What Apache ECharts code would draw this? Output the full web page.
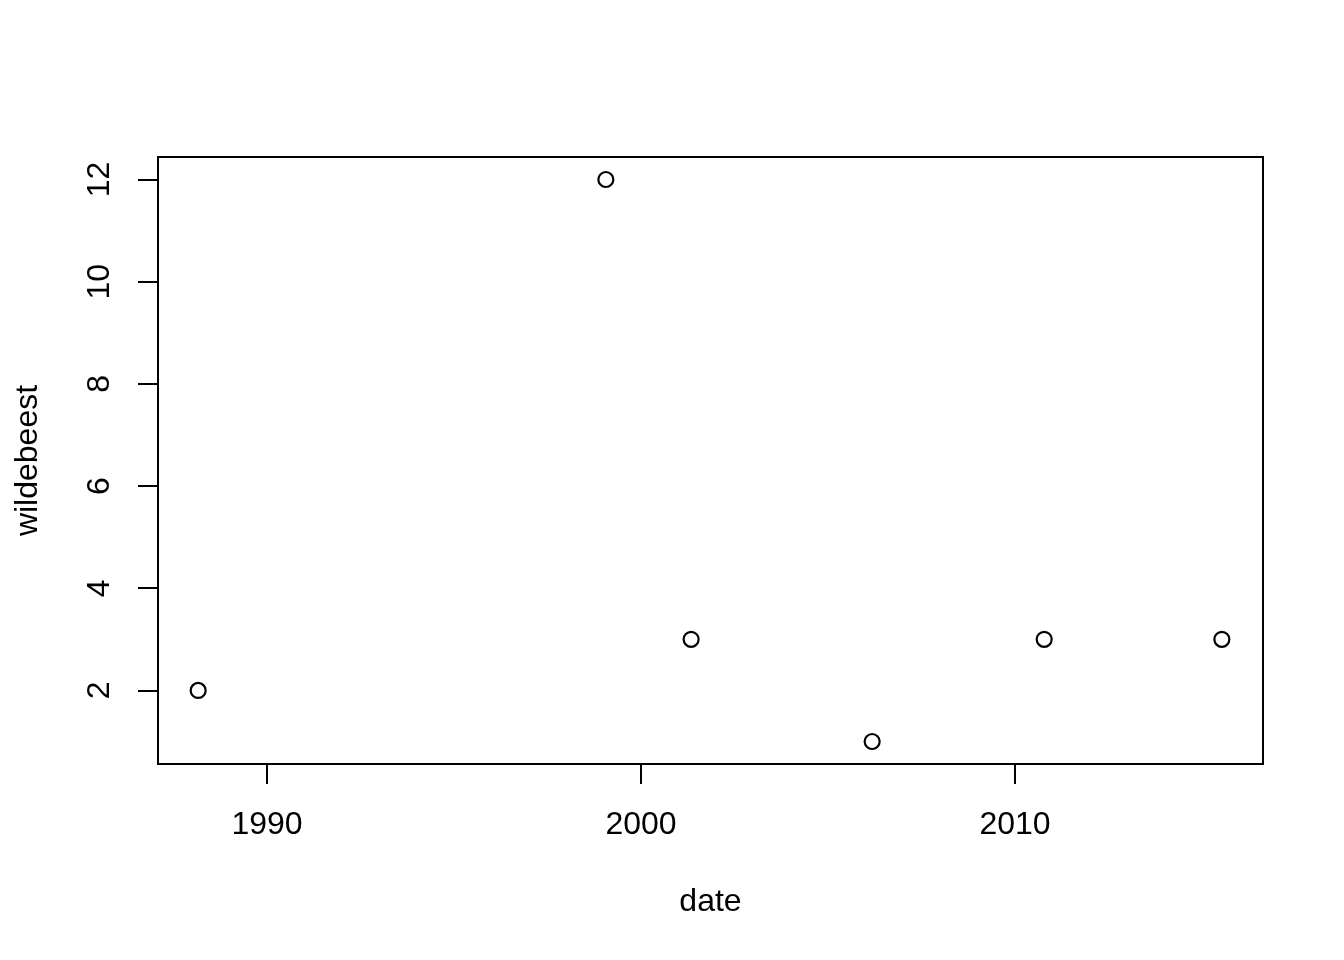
<!DOCTYPE html>
<html>
<head>
<meta charset="utf-8">
<script src="https://cdn.jsdelivr.net/npm/echarts@6/dist/echarts.min.js"></script>
<style>
html,body{margin:0;padding:0;background:#fff;}
#chart{width:1344px;height:960px;}
</style>
</head>
<body>
<div id="chart"></div>
<script>
const dates = [1988.16, 1999.06, 2001.34, 2006.18, 2010.78, 2015.53];
const wildebeest = [2, 12, 3, 1, 3, 3];
const xTicks = [1990, 2000, 2010];
const yTicks = [2, 4, 6, 8, 10, 12];

const points = dates.map((d, i) => [d, wildebeest[i]]);
const font = 'Liberation Sans, Arial, Helvetica, sans-serif';

const chart = echarts.init(document.getElementById('chart'), null, {renderer: 'canvas'});
chart.setOption({
  animation: false,
  backgroundColor: '#ffffff',
  grid: {
    left: 158, right: 81, top: 157, bottom: 196,
    show: true, borderColor: '#000', borderWidth: 2, backgroundColor: 'transparent'
  },
  xAxis: {
    type: 'value',
    min: 1987.086, max: 2016.63,
    name: 'date', nameLocation: 'middle', nameGap: 122,
    nameTextStyle: {fontFamily: font, fontSize: 32, color: '#000'},
    axisLine: {show: false},
    splitLine: {show: false},
    axisTick: {show: true, length: 20, lineStyle: {color: '#000', width: 2}, customValues: xTicks},
    axisLabel: {fontFamily: font, fontSize: 32, color: '#000', margin: 45, customValues: xTicks,
      formatter: v => String(v)}
  },
  yAxis: {
    type: 'value',
    min: 0.56, max: 12.44,
    name: 'wildebeest', nameLocation: 'middle', nameGap: 114, nameRotate: 90,
    nameTextStyle: {fontFamily: font, fontSize: 32, color: '#000'},
    axisLine: {show: false},
    splitLine: {show: false},
    axisTick: {show: true, length: 20, lineStyle: {color: '#000', width: 2}, customValues: yTicks},
    axisLabel: {fontFamily: font, fontSize: 32, color: '#000', margin: 42, rotate: 90, customValues: yTicks,
      formatter: v => String(v)}
  },
  series: [{
    type: 'scatter',
    data: points,
    symbol: 'circle',
    symbolSize: 15,
    itemStyle: {color: 'rgba(0,0,0,0)', borderColor: '#000', borderWidth: 2.2, opacity: 1},
    emphasis: {disabled: true}
  }]
});
</script>
</body>
</html>
